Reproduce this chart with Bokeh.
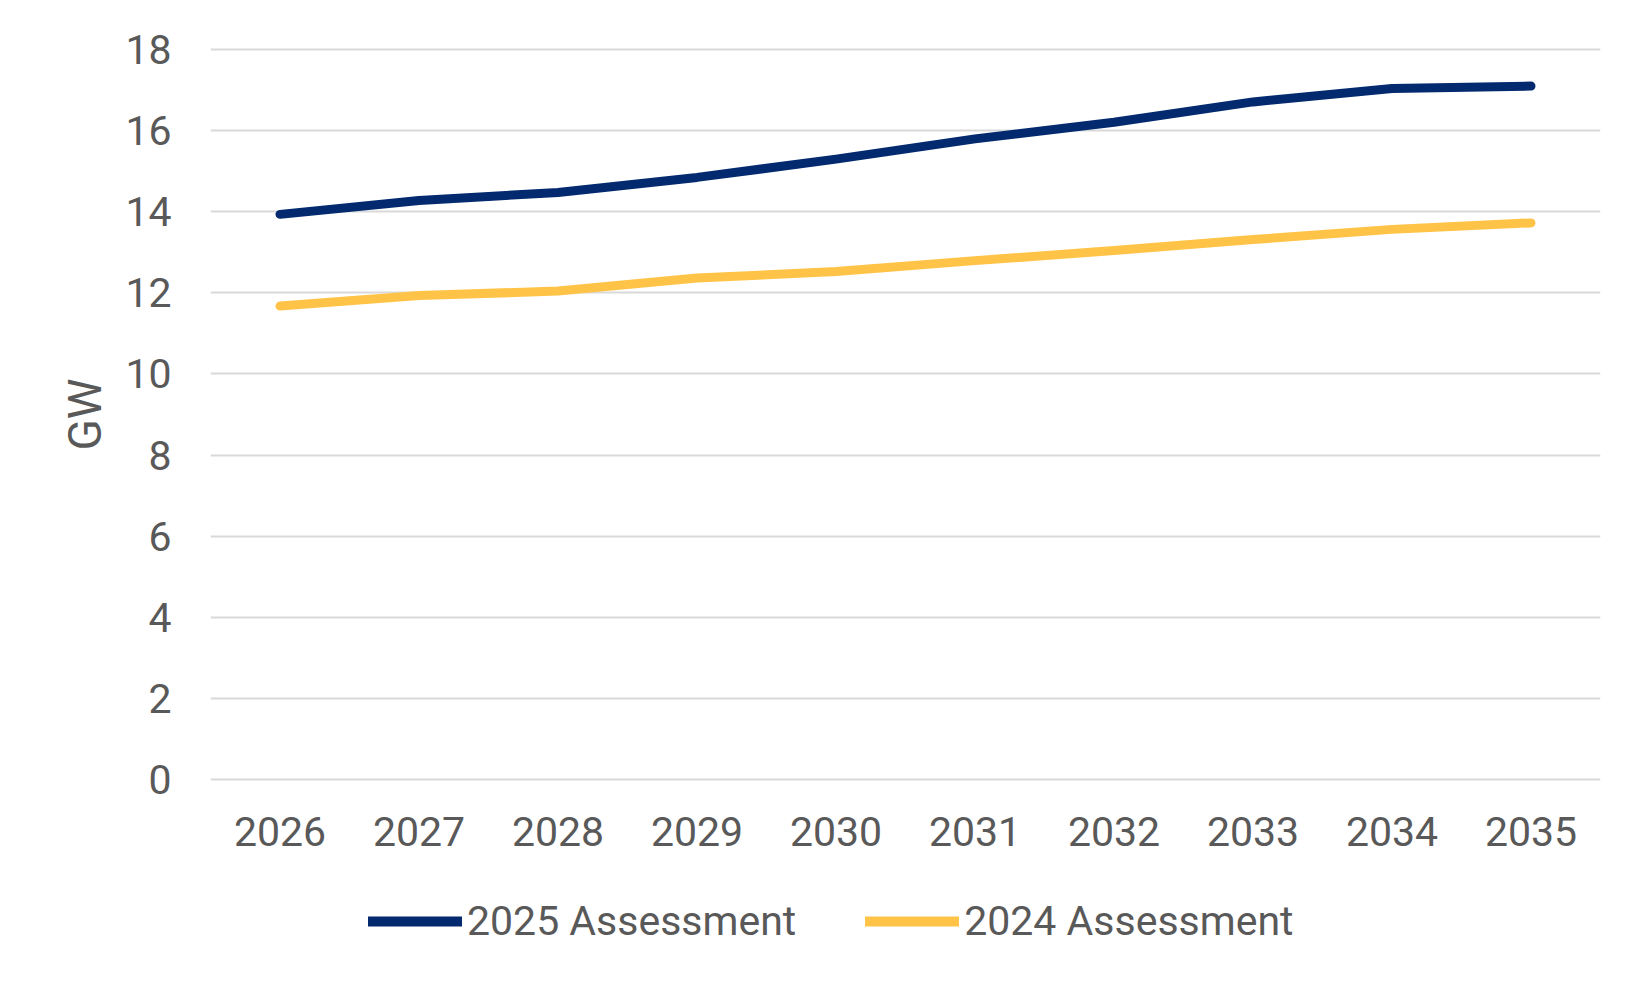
from bokeh.plotting import figure
from bokeh.models import Range1d, Legend, LegendItem, FixedTicker
from bokeh.layouts import column
from bokeh.embed import file_html
from bokeh.resources import INLINE

years = [2026, 2027, 2028, 2029, 2030, 2031, 2032, 2033, 2034, 2035]
assessment_2025 = [13.93, 14.27, 14.47, 14.84, 15.29, 15.79, 16.2, 16.7, 17.03, 17.09]
assessment_2024 = [11.67, 11.93, 12.04, 12.36, 12.52, 12.79, 13.04, 13.31, 13.56, 13.72]
y_ticks = [0, 2, 4, 6, 8, 10, 12, 14, 16, 18]
series_names = ["2025 Assessment", "2024 Assessment"]

NAVY = "#03296E"
GOLD = "#FFC447"
TXT = "#595959"
FONT = "Roboto"

p = figure(output_backend="svg", toolbar_location=None,
           x_range=Range1d(2025.5, 2035.5), y_range=Range1d(-0.04, 18.04),
           frame_width=1390, frame_height=734,
           min_border_left=210, min_border_top=47, min_border_right=30, min_border_bottom=100)
p.outline_line_color = None
p.background_fill_color = "white"

p.line(years, assessment_2025, line_color=NAVY, line_width=9, line_cap="round", line_join="round")
p.line(years, assessment_2024, line_color=GOLD, line_width=9, line_cap="round", line_join="round")

p.xgrid.grid_line_color = None
p.ygrid.grid_line_color = "#D9D9D9"
p.ygrid.grid_line_width = 2
p.yaxis.ticker = FixedTicker(ticks=y_ticks)
p.xaxis.ticker = FixedTicker(ticks=years)

for ax in (p.xaxis[0], p.yaxis[0]):
    ax.axis_line_color = None
    ax.major_tick_line_color = None
    ax.minor_tick_line_color = None
    ax.major_label_text_font = FONT
    ax.major_label_text_font_size = "41px"
    ax.major_label_text_color = TXT

p.yaxis.major_label_standoff = 33
p.xaxis.major_label_standoff = 29
p.yaxis.axis_label = "GW"
p.yaxis.axis_label_text_font = FONT
p.yaxis.axis_label_text_font_size = "46px"
p.yaxis.axis_label_text_font_style = "normal"
p.yaxis.axis_label_text_color = TXT
p.yaxis.axis_label_standoff = 10

# legend strip below the chart (key lines lie outside the strip's visible range)
lg = figure(output_backend="svg", toolbar_location=None,
            x_range=Range1d(0, 1), y_range=Range1d(0, 1),
            frame_width=1630, frame_height=80,
            min_border_left=0, min_border_right=0, min_border_top=0, min_border_bottom=0)
lg.axis.visible = False
lg.grid.grid_line_color = None
lg.outline_line_color = None
k1 = lg.line(x=[-10, -9], y=[-10, -10], line_color=NAVY, line_width=10, line_cap="round")
k2 = lg.line(x=[-10, -9], y=[-10, -10], line_color=GOLD, line_width=10, line_cap="round")

legend = Legend(items=[LegendItem(label=series_names[0], renderers=[k1]),
                       LegendItem(label=series_names[1], renderers=[k2])],
                orientation="horizontal", location="left",
                glyph_width=94, glyph_height=40, label_standoff=5, spacing=69,
                label_text_font=FONT, label_text_font_size="41px", label_text_color=TXT,
                border_line_color=None, background_fill_alpha=0, margin=368, padding=0)
lg.add_layout(legend, "center")

open("out.html", "w").write(file_html(column(p, lg, spacing=0), INLINE))
